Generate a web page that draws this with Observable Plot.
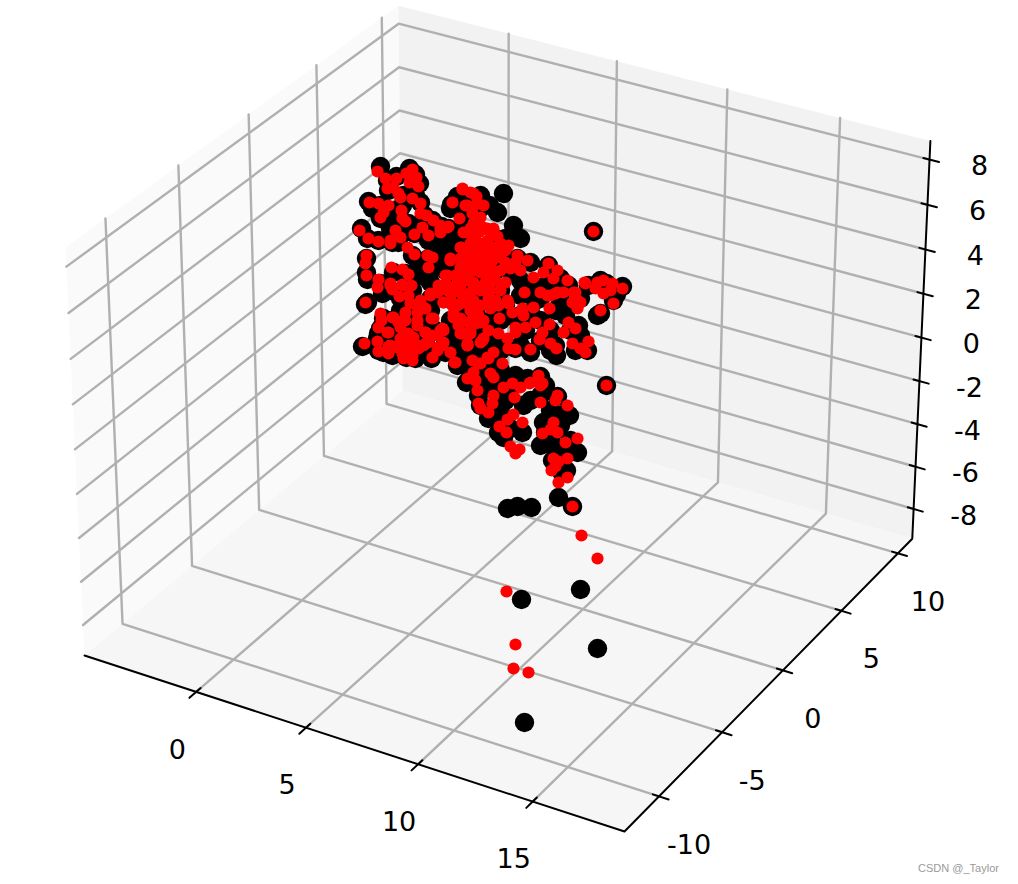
<!DOCTYPE html>
<html><head><meta charset="utf-8">
<style>html,body{margin:0;padding:0;background:#fff}svg{display:block}</style>
<script src="https://cdn.jsdelivr.net/npm/d3@7"></script>
<script src="https://cdn.jsdelivr.net/npm/@observablehq/plot@0.6"></script>
</head><body><div id="chart"></div>
<script>
const xTicks=[0,5,10,15], yTicks=[-10,-5,0,5,10], zTicks=[-8,-6,-4,-2,0,2,4,6,8];
const xLim=[-5.2,18.93], yLim=[-12.66,11.3], zLim=[-9.42,8.82];
// projected positions of the two point clouds
const redPoints=[[377,171],[385,178],[396,178],[412,169],[406,173],[416,177],[409,182],[418,186],[387,188],[393,187],[398,193],[412,198],[400,197],[369,202],[378,203],[388,205],[383,212],[380,217],[401,210],[402,218],[405,221],[420,203],[420,213],[426,215],[433,220],[440,225],[448,226],[440,232],[422,227],[428,235],[414,234],[395,230],[400,237],[390,243],[378,241],[368,238],[359,230],[390,240],[407,247],[414,254],[427,255],[432,257],[366,255],[452,202],[462,188],[459,218],[460,247],[466,232],[450,258],[473,193],[483,205],[467,205],[477,203],[472,213],[473,223],[483,227],[473,237],[483,243],[470,243],[480,253],
[365,263],[366,275],[378,279],[377,287],[391,267],[402,269],[408,274],[428,267],[450,260],[390,283],[392,289],[402,284],[411,285],[399,296],[408,295],[365,302],[380,313],[381,320],[378,327],[388,332],[392,317],[398,322],[405,312],[405,320],[417,305],[430,293],[438,285],[447,275],[443,302],[453,305],[452,292],[423,307],[431,318],[417,325],[425,332],[440,330],[364,343],[377,341],[378,351],[388,346],[388,353],[400,338],[410,338],[405,347],[402,353],[412,355],[425,343],[418,348],[438,347],[432,357],[450,352],[455,362],[467,345],[472,360],[487,357],[482,340],[460,333],[468,322],[478,315],[480,322],[460,318],[465,302],[457,287],[467,278],[473,267],[460,267],[480,260],[467,257],[487,273],
[462,189],[470,192],[476,196],[465,205],[472,208],[480,217],[493,228],[487,228],[467,232],[478,232],[461,247],[472,242],[487,240],[500,243],[508,245],[477,253],[493,253],[463,263],[480,265],[517,255],[527,260],[548,263],[557,270],[567,280],[543,272],[533,277],[553,278],[573,292],[584,282],[577,300],[540,292],[557,292],[550,295],[524,292],[505,282],[490,290],[473,282],[445,275],[457,282],[447,227],[440,228],[595,288],[603,280],[597,282],[610,290],[603,293],[612,283],[622,288],[593,231],[507,300],[495,300],[463,300],[447,290],[572,302],[580,302],
[547,295],[555,293],[563,292],[575,292],[585,283],[577,308],[600,310],[613,303],[498,305],[508,303],[512,312],[522,308],[533,307],[523,315],[535,322],[549,308],[499,318],[549,324],[568,322],[575,328],[563,332],[572,343],[588,341],[580,348],[585,352],[542,332],[539,339],[550,343],[556,348],[530,349],[515,327],[525,327],[515,332],[488,330],[498,333],[507,338],[483,338],[480,342],[508,348],[515,349],[493,352],[488,358],[470,330],[467,345],[454,362],[478,363],[502,363],[490,373],[473,372],[467,378],[475,380],[493,377],[477,390],[493,395],[503,387],[512,383],[520,387],[530,382],[538,375],[540,385],[514,397],[557,395],[478,322],[453,317],[473,315],[443,330],[442,345],[460,303],[473,302],[483,320],[443,302],
[492,403],[478,403],[480,408],[488,412],[529,383],[542,383],[540,402],[555,400],[567,405],[606,385],[522,422],[513,414],[507,419],[499,426],[506,432],[510,446],[519,449],[515,453],[553,422],[542,433],[550,429],[557,432],[565,442],[577,438],[553,458],[567,458],[558,461],[555,466],[551,470],[567,477],[558,482],[572,506],[581,535],[597,558],[506,591],[515,644],[513,668],[528,672],
[463,232],[470,228],[480,230],[490,232],[497,236],[475,240],[485,245],[495,247],[467,250],[475,250],[485,255],[505,250],[492,260],[500,257],[460,258],[470,258],[478,262],[490,265],[505,262],[460,270],[470,272],[480,272],[490,272],[500,270],[510,268],[455,275],[465,280],[475,285],[485,282],[495,280],[445,283],[452,290],[460,292],[470,292],[480,290],[488,298],[500,290],[520,270],[515,262],[450,300],[457,305],[470,310],[480,305],[490,308],
[390,285],[402,285],[410,285],[420,300],[410,303],[430,295],[437,292],[450,287],[460,285],[473,285],[452,305],[467,303],[473,300],[417,312],[425,308],[417,320],[403,320],[393,317],[400,327],[408,333],[413,337],[425,332],[433,318],[442,328],[437,335],[432,335],[387,332],[390,345],[398,345],[405,342],[412,340],[397,347],[402,348],[410,348],[417,345],[423,345],[428,342],[388,352],[403,358],[412,360],[437,350],[443,342],[462,333],[470,333],[467,343],[480,363],[453,313],[460,320],[467,322],[477,317],[475,323],[458,325]];
const blackPoints=[[380,166],[387,180],[396,176],[409,168],[415,174],[419,183],[415,195],[403,195],[388,190],[368,201],[372,208],[380,218],[390,210],[402,205],[380,205],[400,218],[408,223],[361,228],[367,238],[378,240],[392,242],[402,232],[398,242],[390,228],[420,202],[424,215],[432,220],[441,226],[448,228],[440,235],[425,233],[414,233],[428,240],[450,208],[462,212],[457,196],[470,198],[480,195],[489,205],[497,212],[503,193],[513,225],[520,238],[505,238],[495,238],[460,240],[462,228],[478,210],[469,225],[451,204],
[366,258],[366,272],[367,279],[380,283],[382,293],[393,272],[405,273],[410,280],[390,290],[400,298],[412,290],[412,255],[428,258],[430,270],[418,262],[448,262],[365,304],[367,302],[383,318],[380,328],[378,333],[392,320],[399,325],[362,346],[378,350],[377,338],[383,352],[392,355],[406,357],[415,358],[431,358],[427,347],[445,352],[457,365],[465,360],[472,365],[481,362],[470,345],[490,360],[430,355],[410,340],[435,330],[424,320],[408,315],[418,305],[430,298],[440,290],[452,300],[465,310],[478,330],[492,340],[505,345],[515,348],[530,352],[550,350],[556,355],[575,350],[587,350],[555,345],[540,340],[570,330],[578,325],[555,310],[530,312],[510,315],[500,320],[600,313],[597,315],[613,300],[622,286],[616,294],[606,283],[600,280],[588,285],[580,298],[568,285],[560,278],[548,265],[530,262],[517,258],[505,258],[495,270],[480,275],[470,285],[455,280],[445,270],[500,290],[520,295],[540,298],[560,300],[525,330],[460,350],
[470,372],[466,382],[480,388],[490,378],[500,370],[512,385],[527,378],[540,376],[545,385],[557,396],[565,413],[569,415],[540,395],[523,405],[505,400],[497,385],[480,405],[488,418],[502,423],[498,432],[503,437],[522,432],[510,428],[543,422],[545,432],[553,445],[552,460],[577,452],[565,448],[570,440],[560,470],[566,470],[558,497],[507,508],[517,506],[531,507],[572,506],[606,385],[593,231],[524,722],[597,648],[580,589],[521,599],
[430,240],[440,245],[450,245],[450,235],[455,250],[440,255],[440,265],[430,282],[420,275],[455,262],[470,250],[490,250],[510,270],[520,280],[530,285],[545,285],[560,290],[475,300],[450,320],[465,330],[445,340],[430,310],[415,330],[400,310],[395,335],[405,325],[420,345],[450,335],[455,345],[490,320],[505,305],[520,315],[540,320],[550,330],[565,315],[580,335],[535,300],[520,345],[500,350],[490,350],[480,350],[475,312],[485,300],[495,310],[480,370],[500,380],[515,375],[530,400],[550,410],[555,415],[560,425],[500,412],[478,395],[540,445],[555,430],[560,455]];

// camera of the 3D box: normalized box coordinates -> picture plane
const O=[84,655],E1=[624,831],E2=[402,390],E3=[65,247],wa=0.9497,wb=1.0877,wc=0.9563;
const norm=(v,[a,b])=>(v-a)/(b-a);
function proj(u,v,w){
  const d=1+u*(wa-1)+v*(wb-1)+w*(wc-1);
  const f=i=>(O[i]+u*(wa*E1[i]-O[i])+v*(wb*E2[i]-O[i])+w*(wc*E3[i]-O[i]))/d;
  return {px:f(0),py:f(1)};
}
const poly=(id,pts)=>pts.map(p=>({id,...proj(...p)}));
const panes=[
 {c:"#fafafa",pts:poly("l",[[0,0,0],[0,1,0],[0,1,1],[0,0,1]])},
 {c:"#f2f2f2",pts:poly("b",[[0,1,0],[1,1,0],[1,1,1],[0,1,1]])},
 {c:"#f6f6f6",pts:poly("f",[[0,0,0],[1,0,0],[1,1,0],[0,1,0]])}];
const grid=[];
xTicks.forEach(t=>{const u=norm(t,xLim);grid.push(...poly("x"+t,[[u,0,0],[u,1,0],[u,1,1]]));});
yTicks.forEach(t=>{const v=norm(t,yLim);grid.push(...poly("y"+t,[[1,v,0],[0,v,0],[0,v,1]]));});
zTicks.forEach(t=>{const w=norm(t,zLim);grid.push(...poly("z"+t,[[0,0,w],[0,1,w],[1,1,w]]));});
const axes=poly("a",[[0,0,0],[1,0,0],[1,1,0],[1,1,1]]);
const ticks=[];
xTicks.forEach(t=>{const u=norm(t,xLim);ticks.push(...poly("x"+t,[[u,0.013,0],[u,-0.02,0]]));});
yTicks.forEach(t=>{const v=norm(t,yLim);ticks.push(...poly("y"+t,[[0.989,v,0],[1.017,v,0]]));});
zTicks.forEach(t=>{const w=norm(t,zLim);ticks.push(...poly("z"+t,[[0.989,1,w],[1.017,1,w]]));});
const xLabels=xTicks.map(t=>({t:String(t),...proj(norm(t,xLim),0,0)}));
const yLabels=yTicks.map(t=>({t:String(t),...proj(1,norm(t,yLim),0)}));
const zLabels=zTicks.map(t=>({t:String(t),...proj(1,1,norm(t,zLim))}));
const font={fontFamily:"DejaVu Sans",fontSize:27,fill:"#000",text:"t",x:"px",y:"py"};
const chart=Plot.plot({
  width:1018,height:884,margin:0,
  x:{domain:[0,1018],range:[0,1018],axis:null},
  y:{domain:[0,884],range:[0,884],axis:null},
  style:{background:"#fff"},
  marks:[
    ...panes.map(p=>Plot.line(p.pts,{x:"px",y:"py",fill:p.c,stroke:"none"})),
    Plot.line(grid,{x:"px",y:"py",z:"id",stroke:"#b0b0b0",strokeWidth:2.4}),
    Plot.line(axes,{x:"px",y:"py",stroke:"#000",strokeWidth:2}),
    Plot.line(ticks,{x:"px",y:"py",z:"id",stroke:"#000",strokeWidth:2}),
    Plot.text(xLabels,{...font,dx:-19,dy:58}),
    Plot.text(yLabels,{...font,dx:30,dy:49}),
    Plot.text(zLabels,{...font,dx:50,dy:7}),
    Plot.dot(blackPoints,{x:d=>d[0],y:d=>d[1],r:9.7,fill:"#000"}),
    Plot.dot(redPoints,{x:d=>d[0],y:d=>d[1],r:6.1,fill:"#f00"}),
    Plot.text(["CSDN @_Taylor"],{x:()=>958,y:()=>868,text:d=>d,fontFamily:"Liberation Sans",fontSize:11,fill:"#999"})
  ]
});
document.getElementById("chart").append(chart);
</script></body></html>
